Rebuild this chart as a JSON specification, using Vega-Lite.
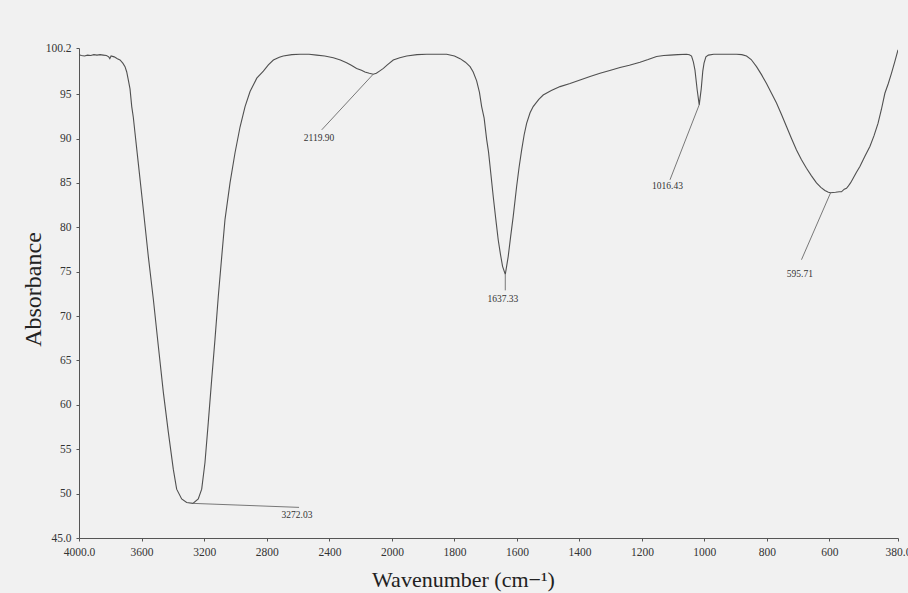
{
  "$schema": "https://vega.github.io/schema/vega-lite/v6.json",
  "autosize": "none",
  "width": 819,
  "height": 490,
  "padding": {"left": 79, "top": 48, "right": 10, "bottom": 55},
  "background": "#f1f1f1",
  "config": {"view": {"stroke": null}, "font": "Liberation Serif", "axis": {"labelFont": "Liberation Serif", "titleFont": "Liberation Serif"}},
  "datasets": {
    "curve": [
      {"wn":4000,"a":99.45},{"wn":3985,"a":99.35},{"wn":3965,"a":99.3},{"wn":3945,"a":99.4},{"wn":3925,"a":99.35},{"wn":3905,"a":99.45},{"wn":3885,"a":99.4},{"wn":3865,"a":99.45},{"wn":3845,"a":99.4},{"wn":3825,"a":99.35},{"wn":3810,"a":99.2},{"wn":3803,"a":99.0},{"wn":3795,"a":99.3},{"wn":3775,"a":99.2},{"wn":3755,"a":99.0},{"wn":3738,"a":98.85},{"wn":3720,"a":98.5},{"wn":3706,"a":98.1},{"wn":3695,"a":97.5},{"wn":3685,"a":96.6},{"wn":3674,"a":95.6},{"wn":3663,"a":93.6},{"wn":3653,"a":92.4},{"wn":3642,"a":90.6},{"wn":3621,"a":87.2},{"wn":3589,"a":82.0},{"wn":3557,"a":76.7},{"wn":3525,"a":71.9},{"wn":3493,"a":66.6},{"wn":3461,"a":61.4},{"wn":3429,"a":56.9},{"wn":3397,"a":52.7},{"wn":3376,"a":50.5},{"wn":3344,"a":49.4},{"wn":3312,"a":49.0},{"wn":3272,"a":48.9},{"wn":3238,"a":49.4},{"wn":3216,"a":50.5},{"wn":3195,"a":53.5},{"wn":3174,"a":58.0},{"wn":3152,"a":62.9},{"wn":3131,"a":67.4},{"wn":3110,"a":72.2},{"wn":3088,"a":76.7},{"wn":3067,"a":80.9},{"wn":3035,"a":85.0},{"wn":3003,"a":88.4},{"wn":2971,"a":91.3},{"wn":2939,"a":93.6},{"wn":2907,"a":95.3},{"wn":2864,"a":96.8},{"wn":2822,"a":97.6},{"wn":2790,"a":98.3},{"wn":2758,"a":98.85},{"wn":2720,"a":99.15},{"wn":2695,"a":99.3},{"wn":2640,"a":99.45},{"wn":2588,"a":99.5},{"wn":2530,"a":99.5},{"wn":2481,"a":99.4},{"wn":2430,"a":99.3},{"wn":2375,"a":99.1},{"wn":2330,"a":98.85},{"wn":2290,"a":98.55},{"wn":2260,"a":98.25},{"wn":2226,"a":97.9},{"wn":2195,"a":97.7},{"wn":2173,"a":97.5},{"wn":2145,"a":97.35},{"wn":2120,"a":97.25},{"wn":2100,"a":97.35},{"wn":2080,"a":97.6},{"wn":2055,"a":97.9},{"wn":2030,"a":98.3},{"wn":1996,"a":98.85},{"wn":1975,"a":99.1},{"wn":1953,"a":99.3},{"wn":1920,"a":99.45},{"wn":1889,"a":99.5},{"wn":1855,"a":99.5},{"wn":1825,"a":99.5},{"wn":1800,"a":99.3},{"wn":1782,"a":99.0},{"wn":1765,"a":98.6},{"wn":1750,"a":98.1},{"wn":1740,"a":97.5},{"wn":1729,"a":96.5},{"wn":1720,"a":95.2},{"wn":1713,"a":93.6},{"wn":1705,"a":92.3},{"wn":1697,"a":89.9},{"wn":1691,"a":88.5},{"wn":1686,"a":86.85},{"wn":1676,"a":83.5},{"wn":1668,"a":81.0},{"wn":1660,"a":78.6},{"wn":1653,"a":77.0},{"wn":1646,"a":75.6},{"wn":1637.3,"a":74.7},{"wn":1628,"a":76.7},{"wn":1620,"a":79.0},{"wn":1612,"a":81.2},{"wn":1601,"a":84.6},{"wn":1593,"a":86.8},{"wn":1585,"a":88.7},{"wn":1577,"a":90.4},{"wn":1569,"a":91.7},{"wn":1558,"a":92.9},{"wn":1548,"a":93.6},{"wn":1530,"a":94.4},{"wn":1516,"a":94.9},{"wn":1490,"a":95.4},{"wn":1462,"a":95.85},{"wn":1430,"a":96.2},{"wn":1398,"a":96.6},{"wn":1366,"a":97.0},{"wn":1334,"a":97.35},{"wn":1300,"a":97.7},{"wn":1270,"a":98.0},{"wn":1240,"a":98.25},{"wn":1206,"a":98.6},{"wn":1180,"a":98.9},{"wn":1153,"a":99.25},{"wn":1130,"a":99.35},{"wn":1110,"a":99.4},{"wn":1085,"a":99.45},{"wn":1057,"a":99.5},{"wn":1048,"a":99.45},{"wn":1041,"a":99.3},{"wn":1035,"a":98.6},{"wn":1030,"a":97.7},{"wn":1023,"a":95.5},{"wn":1016.4,"a":93.8},{"wn":1010,"a":95.6},{"wn":1005,"a":97.6},{"wn":1001,"a":98.5},{"wn":995,"a":99.2},{"wn":987,"a":99.4},{"wn":970,"a":99.5},{"wn":950,"a":99.5},{"wn":925,"a":99.5},{"wn":897,"a":99.5},{"wn":880,"a":99.45},{"wn":865,"a":99.3},{"wn":850,"a":98.9},{"wn":833,"a":98.1},{"wn":817,"a":97.2},{"wn":801,"a":96.2},{"wn":785,"a":95.1},{"wn":769,"a":94.0},{"wn":753,"a":92.7},{"wn":737,"a":91.35},{"wn":721,"a":90.0},{"wn":705,"a":88.7},{"wn":689,"a":87.6},{"wn":673,"a":86.65},{"wn":657,"a":85.8},{"wn":641,"a":85.0},{"wn":627,"a":84.5},{"wn":614,"a":84.15},{"wn":603,"a":83.95},{"wn":595.7,"a":83.9},{"wn":580,"a":83.95},{"wn":568,"a":84.0},{"wn":561,"a":84.0},{"wn":552,"a":84.3},{"wn":545,"a":84.4},{"wn":540,"a":84.6},{"wn":532,"a":85.0},{"wn":524,"a":85.5},{"wn":513,"a":86.2},{"wn":502,"a":86.85},{"wn":486,"a":88.0},{"wn":470,"a":89.1},{"wn":457,"a":90.3},{"wn":444,"a":91.7},{"wn":433,"a":93.3},{"wn":422,"a":95.1},{"wn":411,"a":96.2},{"wn":401,"a":97.35},{"wn":390,"a":98.7},{"wn":380,"a":100.0}
    ],
    "leaders": [
      {"x":3272,"y":48.9,"x2":2594,"y2":48.45},
      {"x":2119.9,"y":97.25,"x2":2449,"y2":90.98},
      {"x":1637.33,"y":74.7,"x2":1637.33,"y2":72.9},
      {"x":1016.43,"y":93.8,"x2":1110,"y2":85.35},
      {"x":595.71,"y":83.9,"x2":689,"y2":76.35}
    ],
    "labels": [
      {"x":2607,"y":47.6,"t":"3272.03"},
      {"x":2466,"y":90.1,"t":"2119.90"},
      {"x":1645,"y":71.97,"t":"1637.33"},
      {"x":1118,"y":84.6,"t":"1016.43"},
      {"x":694,"y":74.78,"t":"595.71"}
    ]
  },
  "layer": [
    {
      "data": {"name": "curve"},
      "mark": {"type": "line", "color": "#505050", "strokeWidth": 1.1, "clip": true},
      "encoding": {
        "x": {
          "field": "wn", "type": "quantitative",
          "scale": {"domain": [4000, 2000, 380], "range": [0, 313, 819], "zero": false, "nice": false},
          "axis": {
            "values": [4000,3600,3200,2800,2400,2000,1800,1600,1400,1200,1000,800,600,380],
            "format": "d",
            "labelExpr": "datum.value == 4000 ? '4000.0' : (datum.value == 380 ? '380.0' : datum.label)",
            "labelOverlap": false, "labelFlush": false, "labelBound": false,
            "labelFont": "Liberation Serif", "labelFontSize": 11.5, "labelColor": "#333",
            "labelPadding": 5,
            "tickSize": 3, "tickColor": "#555", "domainColor": "#555", "grid": false,
            "title": "Wavenumber (cm−¹)",
            "titleFont": "Liberation Serif", "titleFontSize": 22, "titleFontWeight": "normal", "titleColor": "#222",
            "titleX": 384, "titleY": 48, "titleBaseline": "alphabetic", "titleAlign": "center"
          }
        },
        "y": {
          "field": "a", "type": "quantitative",
          "scale": {"domain": [45, 100.2], "zero": false, "nice": false},
          "axis": {
            "values": [45,50,55,60,65,70,75,80,85,90,95,100.2],
            "labelExpr": "datum.value == 45 ? '45.0' : (datum.value == 100.2 ? '100.2' : format(datum.value, 'd'))",
            "labelOverlap": false, "labelFlush": false, "labelBound": false,
            "labelFont": "Liberation Serif", "labelFontSize": 11.5, "labelColor": "#333",
            "labelPadding": 5,
            "tickSize": 3, "tickColor": "#555", "domainColor": "#555", "grid": false,
            "title": "Absorbance",
            "titleFont": "Liberation Serif", "titleFontSize": 24, "titleFontWeight": "normal", "titleColor": "#222",
            "titleX": -46, "titleY": 241, "titleAngle": -90, "titleBaseline": "middle", "titleAlign": "center"
          }
        }
      }
    },
    {
      "data": {"name": "leaders"},
      "mark": {"type": "rule", "color": "#6a6a6a", "strokeWidth": 0.9},
      "encoding": {
        "x": {"field": "x", "type": "quantitative"},
        "y": {"field": "y", "type": "quantitative"},
        "x2": {"field": "x2"},
        "y2": {"field": "y2"}
      }
    },
    {
      "data": {"name": "labels"},
      "mark": {"type": "text", "font": "Liberation Serif", "fontSize": 9.5, "color": "#333", "align": "center", "baseline": "middle"},
      "encoding": {
        "x": {"field": "x", "type": "quantitative"},
        "y": {"field": "y", "type": "quantitative"},
        "text": {"field": "t"}
      }
    }
  ]
}
